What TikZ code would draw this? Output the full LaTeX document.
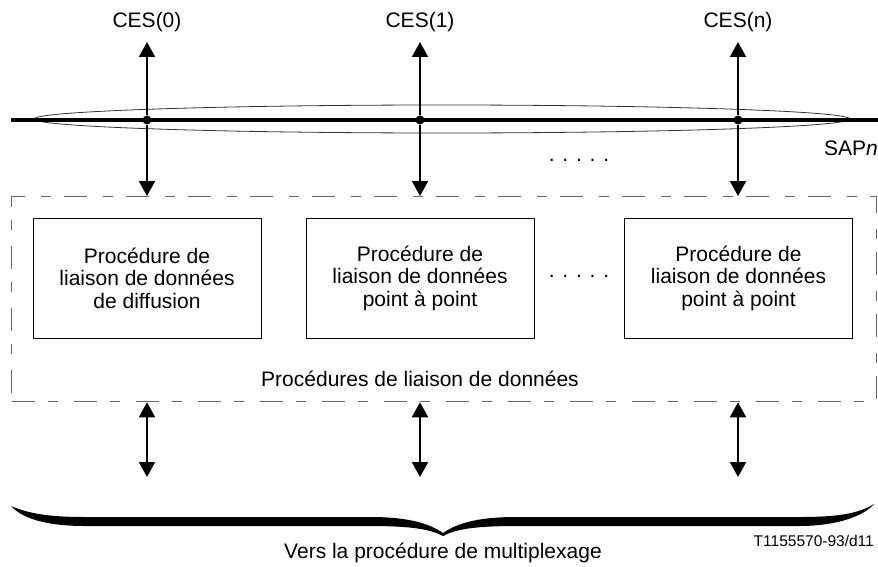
\documentclass[tikz,border=0pt]{standalone}
\usepackage{fontspec}
\setmainfont{Liberation Sans}
\usetikzlibrary{arrows.meta}
\begin{document}
\begin{tikzpicture}[x=1pt,y=-1pt,
  lbl/.style={inner sep=0pt,font=\fontsize{21}{22.5}\selectfont},
  procbox/.style={draw,line width=1pt,minimum width=228pt,minimum height=120pt,inner sep=0pt,align=center,font=\fontsize{21}{22.5}\selectfont},
  frame/.style={draw=black!60,line width=1.3pt,dash pattern=on 23pt off 13pt on 10pt off 16pt,inner sep=0pt},
  uparr/.style={line width=2pt,-{Triangle[width=16pt,length=15pt]}},
  dblarr/.style={line width=2pt,{Triangle[width=16pt,length=15pt]}-{Triangle[width=16pt,length=15pt]}},
  busdot/.style={circle,fill,inner sep=0pt,minimum size=9pt}]
\useasboundingbox (0,0) rectangle (878,567);

% service access point: bus line inside a flat ellipse
\draw[black!80,line width=0.8pt] (442,119) ellipse [x radius=408pt,y radius=14pt];
\draw[line width=3.2pt] (11,120) -- (878,120);
\node[busdot] (d0) at (147,120) {};
\node[busdot] (d1) at (420,120) {};
\node[busdot] (dn) at (738,120) {};
\node[lbl,anchor=east] (sap) at (878,148) {SAP\textit{n}};
\node[lbl] (dotsA) at (579,160) {. . . . .};

% connection endpoints
\node[lbl] (ces0) at (147,22) {CES(0)};
\node[lbl] (ces1) at (420,22) {CES(1)};
\node[lbl] (cesn) at (738,22) {CES(n)};

% data link procedures frame
\node[frame,anchor=north west,minimum width=865pt,minimum height=205pt] (frame) at (11,196) {};
\node[procbox] (b0) at (147,278) {Procédure de\\liaison de données\\de diffusion};
\node[procbox] (b1) at (420,278) {Procédure de\\liaison de données\\point à point};
\node[procbox] (bn) at (738.5,278) {Procédure de\\liaison de données\\point à point};
\node[lbl] (dotsB) at (579,276) {. . . . .};
\node[lbl] (proclbl) at (420,379) {Procédures de liaison de données};

% arrows between the bus and the endpoints / procedures
\draw[uparr] (d0) -- (ces0.south |- 0,42);
\draw[uparr] (d1) -- (ces1.south |- 0,42);
\draw[uparr] (dn) -- (cesn.south |- 0,42);
\draw[uparr] (d0) -- (d0 |- frame.north);
\draw[uparr] (d1) -- (d1 |- frame.north);
\draw[uparr] (dn) -- (dn |- frame.north);

% arrows towards the multiplexing procedure
\coordinate (m0) at (147,477);
\coordinate (m1) at (420,477);
\coordinate (mn) at (738,477);
\draw[dblarr] (m0 |- frame.south) -- (m0);
\draw[dblarr] (m1 |- frame.south) -- (m1);
\draw[dblarr] (mn |- frame.south) -- (mn);

% brace
\fill (11,506) .. controls (30,514) and (50,517) .. (85,517) -- (370,517)
  .. controls (410,517) and (430,524) .. (443,533)
  .. controls (456,524) and (476,517) .. (516,517) -- (800,517)
  .. controls (836,517) and (858,514) .. (874,504)
  .. controls (862,518) and (832,526) .. (800,526) -- (516,526)
  .. controls (476,526) and (456,529) .. (443,536)
  .. controls (430,529) and (410,526) .. (370,526) -- (85,526)
  .. controls (50,526) and (24,520) .. (11,506) -- cycle;
\node[lbl] (mux) at (443,553) {Vers la procédure de multiplexage};
\node[inner sep=0pt,anchor=east,font=\fontsize{15.5}{17}\selectfont] (ref) at (874,541) {T1155570-93/d11};
\end{tikzpicture}
\end{document}
